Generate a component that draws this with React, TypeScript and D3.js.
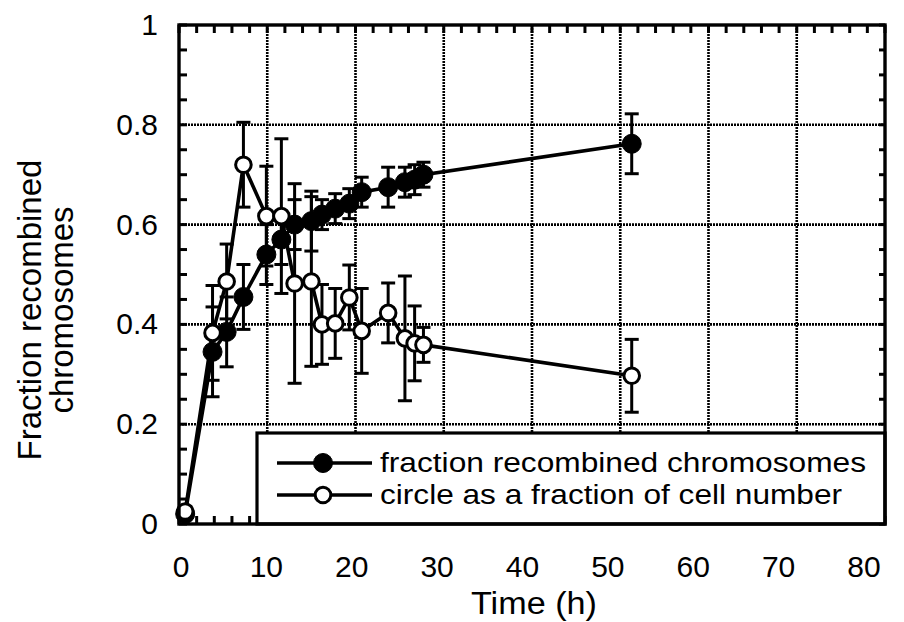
import React from "react";
import * as d3 from "d3";

const times = [0.7, 3.8, 5.4, 7.3, 9.9, 11.6, 13.1, 15.0, 16.2, 17.7, 19.3, 20.7, 23.7, 25.6, 26.7, 27.7, 51.3];
const recombined = [0.02, 0.345, 0.385, 0.455, 0.54, 0.57, 0.6, 0.607, 0.62, 0.632, 0.642, 0.665, 0.675, 0.685, 0.69, 0.7, 0.762];
const recombinedErr = [0.01, 0.09, 0.07, 0.065, 0.06, 0.05, 0.05, 0.06, 0.03, 0.03, 0.03, 0.03, 0.04, 0.03, 0.03, 0.025, 0.06];
const circleFrac = [0.025, 0.383, 0.486, 0.72, 0.617, 0.617, 0.482, 0.486, 0.4, 0.402, 0.454, 0.387, 0.423, 0.372, 0.362, 0.359, 0.297];
const circleErr = [0.01, 0.095, 0.075, 0.085, 0.1, 0.155, 0.2, 0.17, 0.08, 0.07, 0.065, 0.085, 0.06, 0.125, 0.075, 0.035, 0.073];

const xTicks = [0, 10, 20, 30, 40, 50, 60, 70, 80];
const yTicks = [0, 0.2, 0.4, 0.6, 0.8, 1];
const yTickLabels = ["0", "0.2", "0.4", "0.6", "0.8", "1"];
const legendLabels = ["fraction recombined chromosomes", "circle as a fraction of cell number"];

const FONT = "'Liberation Sans', Arial, Helvetica, sans-serif";

export default function App() {
  const x = d3.scaleLinear().domain([0, 80]).range([179, 885]);
  const xLab = d3.scaleLinear().domain([0, 80]).range([181, 864]);
  const y = d3.scaleLinear().domain([0, 1]).range([524, 25]);
  const line = d3.line<[number, number]>().x((d) => x(d[0])).y((d) => y(d[1]));

  const minorX = d3.range(0, 80.001, 2);
  const minorY = d3.range(0, 1.0001, 0.05);

  const series = [
    { vals: recombined, errs: recombinedErr, filled: true },
    { vals: circleFrac, errs: circleErr, filled: false },
  ];

  const legX = 257, legY = 433, legR = 885, legB = 524;
  const legendRows = [463, 495];
  const legendWidths = [486, 462];

  return (
    <svg width={904} height={622} style={{ display: "block", position: "absolute", left: 0, top: 0, background: "#fff" }}>
      <rect x={0} y={0} width={904} height={622} fill="#fff" />
      {/* grid */}
      {xTicks.slice(1, -1).map((t) => (
        <line key={"gx" + t} x1={x(t)} x2={x(t)} y1={y(1)} y2={y(0)} stroke="#000" strokeWidth={2.6} strokeDasharray="2,1" />
      ))}
      {yTicks.slice(1, -1).map((t) => (
        <line key={"gy" + t} x1={x(0)} x2={x(80)} y1={y(t)} y2={y(t)} stroke="#000" strokeWidth={2.6} strokeDasharray="2,1" />
      ))}
      {/* minor ticks */}
      {minorX.map((t) => (
        <g key={"mx" + t}>
          <line x1={x(t)} x2={x(t)} y1={y(1)} y2={y(1) + 8} stroke="#000" strokeWidth={3} />
          <line x1={x(t)} x2={x(t)} y1={y(0)} y2={y(0) - 8} stroke="#000" strokeWidth={3} />
        </g>
      ))}
      {minorY.map((t) => (
        <g key={"my" + t}>
          <line x1={x(0)} x2={x(0) + 8} y1={y(t)} y2={y(t)} stroke="#000" strokeWidth={3} />
          <line x1={x(80)} x2={x(80) - 6} y1={y(t)} y2={y(t)} stroke="#000" strokeWidth={3} />
        </g>
      ))}
      {/* series */}
      {series.map((s, si) => {
        const pts: [number, number][] = times.map((t, i) => [t, s.vals[i]]);
        return (
          <g key={"s" + si}>
            {times.map((t, i) => (
              <g key={"e" + i} stroke="#000" strokeWidth={3}>
                <line x1={x(t)} x2={x(t)} y1={y(s.vals[i] + s.errs[i])} y2={y(s.vals[i] - s.errs[i])} />
                <line x1={x(t) - 7} x2={x(t) + 7} y1={y(s.vals[i] + s.errs[i])} y2={y(s.vals[i] + s.errs[i])} />
                <line x1={x(t) - 7} x2={x(t) + 7} y1={y(s.vals[i] - s.errs[i])} y2={y(s.vals[i] - s.errs[i])} />
              </g>
            ))}
            <path d={line(pts) || ""} fill="none" stroke="#000" strokeWidth={3.6} />
          </g>
        );
      })}
      {series.map((s, si) => (
        <g key={"m" + si}>
          {times.map((t, i) => (
            <circle key={i} cx={x(t)} cy={y(s.vals[i])} r={s.filled ? 9.5 : 7.8} fill={s.filled ? "#000" : "#fff"} stroke="#000" strokeWidth={s.filled ? 1 : 3} />
          ))}
        </g>
      ))}
      {/* legend */}
      <rect x={legX} y={legY} width={legR - legX} height={legB - legY} fill="#fff" stroke="#000" strokeWidth={3.2} />
      {legendLabels.map((lab, i) => {
        const ly = legendRows[i];
        return (
          <g key={"l" + i}>
            <line x1={277} x2={372} y1={ly} y2={ly} stroke="#000" strokeWidth={3.6} />
            <circle cx={323} cy={ly} r={i === 0 ? 9.5 : 7.8} fill={i === 0 ? "#000" : "#fff"} stroke="#000" strokeWidth={i === 0 ? 1 : 3} />
            <text x={380} y={ly + 9} fontFamily={FONT} fontSize={27.5} textLength={legendWidths[i]} lengthAdjust="spacingAndGlyphs" fill="#000">{lab}</text>
          </g>
        );
      })}
      {/* frame */}
      <rect x={x(0)} y={y(1)} width={x(80) - x(0)} height={y(0) - y(1)} fill="none" stroke="#000" strokeWidth={3.4} />
      {/* tick labels */}
      {xTicks.map((t) => (
        <text key={"xl" + t} x={xLab(t)} y={577} textAnchor="middle" fontFamily={FONT} fontSize={30} fill="#000">{t}</text>
      ))}
      {yTicks.map((t, i) => (
        <text key={"yl" + t} x={158} y={y(t) + 10} textAnchor="end" fontFamily={FONT} fontSize={30} fill="#000">{yTickLabels[i]}</text>
      ))}
      <text x={534} y={614} textAnchor="middle" fontFamily={FONT} fontSize={31} textLength={126} lengthAdjust="spacingAndGlyphs" fill="#000">Time (h)</text>
      <g transform="translate(29,310) rotate(-90)">
        <text x={0} y={0} textAnchor="middle" dominantBaseline="central" fontFamily={FONT} fontSize={33} fill="#000">Fraction recombined</text>
      </g>
      <g transform="translate(61,310) rotate(-90)">
        <text x={0} y={0} textAnchor="middle" dominantBaseline="central" fontFamily={FONT} fontSize={33} fill="#000">chromosomes</text>
      </g>
    </svg>
  );
}
